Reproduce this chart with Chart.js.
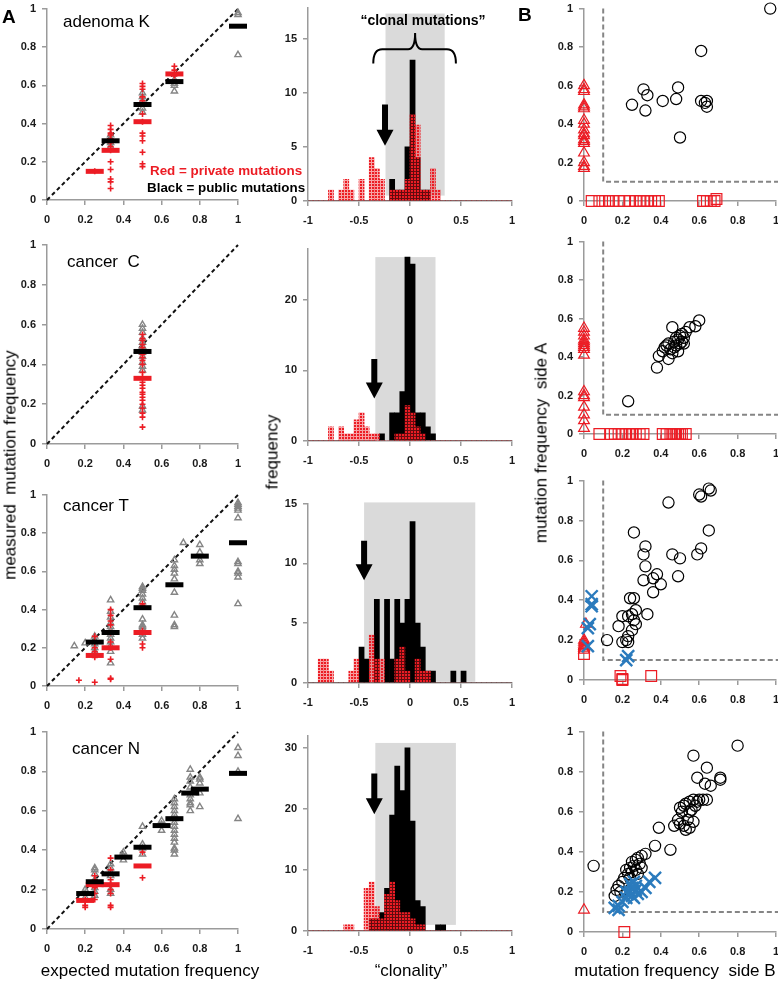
<!DOCTYPE html>
<html><head><meta charset="utf-8"><title>clonality figure</title>
<script src="https://cdn.jsdelivr.net/npm/chart.js@4.4.1/dist/chart.umd.min.js"></script>
<style>
html,body{margin:0;padding:0;background:#fff}
body{position:relative;width:778px;height:982px;overflow:hidden;font-family:"Liberation Sans",Arial,Helvetica,sans-serif}
canvas{position:absolute}
.t{position:absolute;white-space:nowrap;line-height:1;color:#000;z-index:5}
.rot{transform:translate(-50%,-50%) rotate(-90deg)}
.ctr{transform:translate(-50%,-50%)}
</style></head><body>
<div class="t" style="left:2px;top:7px;font-size:19px;font-weight:bold">A</div>
<div class="t" style="left:518px;top:5px;font-size:19px;font-weight:bold">B</div>
<div class="t" style="left:63px;top:13px;font-size:17px">adenoma K</div>
<div class="t" style="left:67px;top:253px;font-size:17px">cancer&nbsp; C</div>
<div class="t" style="left:63px;top:497px;font-size:17px">cancer T</div>
<div class="t" style="left:72px;top:740px;font-size:17px">cancer N</div>
<div class="t rot" style="left:10px;top:465px;font-size:17px">measured&nbsp; mutation frequency</div>
<div class="t rot" style="left:272px;top:452px;font-size:17px">frequency</div>
<div class="t rot" style="left:541px;top:443px;font-size:17px">mutation frequency&nbsp; side A</div>
<div class="t ctr" style="left:150px;top:970px;font-size:17px">expected mutation frequency</div>
<div class="t ctr" style="left:411px;top:970px;font-size:17px">“clonality”</div>
<div class="t ctr" style="left:675px;top:970px;font-size:17px">mutation frequency&nbsp; side B</div>
<div class="t ctr" style="left:423px;top:20px;font-size:14px;font-weight:bold">“clonal mutations”</div>
<div class="t" style="left:150px;top:164px;font-size:13.4px;font-weight:bold;color:#ec1c24">Red = private mutations</div>
<div class="t" style="left:147px;top:181px;font-size:13.4px;font-weight:bold">Black = public mutations</div>
<script>
// ================= DATA =================
// ---- Column A: measured vs expected mutation frequency ----
const A_ticks = [0, 0.2, 0.4, 0.6, 0.8, 1];
const diagonal = [[0, 0], [1, 1]];

const K_gray = [[1,0.98],[1,0.97],[1,0.76],[0.667,0.63],[0.667,0.61],[0.667,0.60],[0.667,0.57],[0.5,0.56],[0.5,0.54],[0.5,0.52],[0.5,0.50],[0.5,0.48],[0.5,0.46],[0.333,0.34],[0.333,0.32],[0.333,0.30],[0.333,0.28]];
const K_plus = [[0.25,0.15],[0.333,0.39],[0.333,0.37],[0.333,0.35],[0.333,0.34],[0.333,0.32],[0.333,0.30],[0.333,0.28],[0.333,0.26],[0.333,0.20],[0.333,0.16],[0.333,0.11],[0.333,0.095],[0.333,0.06],[0.5,0.61],[0.5,0.595],[0.5,0.58],[0.5,0.54],[0.5,0.52],[0.5,0.45],[0.5,0.41],[0.5,0.35],[0.5,0.335],[0.5,0.31],[0.5,0.25],[0.5,0.19],[0.5,0.175],[0.667,0.70],[0.667,0.68],[0.667,0.65]];
const K_blackMean = [[0.333,0.31],[0.5,0.50],[0.667,0.62],[1,0.91]];
const K_redMean = [[0.25,0.15],[0.333,0.26],[0.5,0.41],[0.667,0.66]];

const C_gray = [[0.5,0.60],[0.5,0.58],[0.5,0.56],[0.5,0.53],[0.5,0.51],[0.5,0.49],[0.5,0.46],[0.5,0.44],[0.5,0.41],[0.5,0.39],[0.5,0.37],[0.5,0.19],[0.5,0.17]];
const C_plus = [[0.5,0.55],[0.5,0.53],[0.5,0.52],[0.5,0.50],[0.5,0.485],[0.5,0.47],[0.5,0.45],[0.5,0.435],[0.5,0.42],[0.5,0.40],[0.5,0.36],[0.5,0.335],[0.5,0.31],[0.5,0.295],[0.5,0.28],[0.5,0.26],[0.5,0.25],[0.5,0.235],[0.5,0.22],[0.5,0.20],[0.5,0.18],[0.5,0.155],[0.5,0.135],[0.5,0.085]];
const C_blackMean = [[0.5,0.465]];
const C_redMean = [[0.5,0.33]];

const T_gray = [[0.143,0.21],[0.2,0.225],[0.25,0.26],[0.25,0.24],[0.25,0.22],[0.25,0.20],[0.25,0.18],
 [0.333,0.45],[0.333,0.39],[0.333,0.36],[0.333,0.33],[0.333,0.31],[0.333,0.29],[0.333,0.27],[0.333,0.25],[0.333,0.23],[0.333,0.21],[0.333,0.18],[0.333,0.12],
 [0.5,0.52],[0.5,0.51],[0.5,0.50],[0.5,0.48],[0.5,0.46],[0.5,0.44],[0.5,0.35],[0.5,0.32],[0.5,0.31],[0.5,0.30],[0.5,0.27],[0.5,0.25],
 [0.667,0.66],[0.667,0.63],[0.667,0.61],[0.667,0.59],[0.667,0.56],[0.667,0.49],[0.667,0.37],[0.667,0.32],[0.667,0.31],
 [0.714,0.75],[0.8,0.74],[0.8,0.70],[0.8,0.66],[0.8,0.64],
 [1,0.96],[1,0.95],[1,0.94],[1,0.93],[1,0.92],[1,0.88],[1,0.65],[1,0.64],[1,0.60],[1,0.59],[1,0.57],[1,0.43]];
const T_plus = [[0.167,0.03],[0.25,0.26],[0.25,0.23],[0.25,0.20],[0.25,0.18],[0.25,0.17],[0.25,0.15],[0.25,0.02],[0.333,0.40],[0.333,0.37],[0.333,0.34],[0.333,0.32],[0.333,0.28],[0.333,0.23],[0.333,0.20],[0.333,0.14],[0.333,0.04],[0.333,0.035],[0.5,0.43],[0.5,0.42],[0.5,0.29],[0.5,0.28],[0.5,0.22],[0.5,0.20]];
const T_blackMean = [[0.25,0.23],[0.333,0.28],[0.5,0.41],[0.667,0.53],[0.8,0.68],[1,0.75]];
const T_redMean = [[0.25,0.16],[0.333,0.20],[0.5,0.28]];

const N_gray = [[0.2,0.20],[0.2,0.18],[0.2,0.16],[0.25,0.31],[0.25,0.30],[0.25,0.28],[0.25,0.25],[0.25,0.21],[0.25,0.19],[0.25,0.17],
 [0.333,0.33],[0.333,0.31],[0.333,0.29],[0.333,0.27],[0.333,0.20],[0.333,0.18],[0.4,0.39],[0.4,0.37],[0.4,0.35],
 [0.5,0.52],[0.5,0.43],[0.5,0.41],[0.5,0.38],[0.6,0.55],[0.6,0.53],[0.6,0.50],
 [0.667,0.66],[0.667,0.64],[0.667,0.62],[0.667,0.60],[0.667,0.58],[0.667,0.56],[0.667,0.54],[0.667,0.52],[0.667,0.50],[0.667,0.48],[0.667,0.46],[0.667,0.44],[0.667,0.41],[0.667,0.40],[0.667,0.38],
 [0.75,0.81],[0.75,0.77],[0.75,0.75],[0.75,0.72],[0.75,0.68],[0.75,0.66],[0.75,0.64],[0.75,0.63],[0.75,0.60],
 [0.8,0.77],[0.8,0.76],[0.8,0.74],[0.8,0.69],[0.8,0.62],[1,0.92],[1,0.88],[1,0.80],[1,0.56]];
const N_plus = [[0.2,0.15],[0.2,0.14],[0.2,0.12],[0.2,0.11],[0.25,0.27],[0.25,0.25],[0.25,0.23],[0.25,0.22],[0.25,0.21],[0.25,0.18],[0.25,0.15],[0.333,0.36],[0.333,0.30],[0.333,0.25],[0.333,0.23],[0.333,0.22],[0.333,0.20],[0.333,0.18],[0.333,0.12],[0.333,0.11],[0.5,0.39],[0.5,0.26]];
const N_blackMean = [[0.2,0.18],[0.25,0.24],[0.333,0.28],[0.4,0.365],[0.5,0.415],[0.6,0.525],[0.667,0.56],[0.75,0.69],[0.8,0.71],[1,0.79]];
const N_redMean = [[0.2,0.145],[0.25,0.225],[0.333,0.225],[0.5,0.32]];

// ---- Middle column: "clonality" histograms ----
const binCenters = [-0.975,-0.925,-0.875,-0.825,-0.775,-0.725,-0.675,-0.625,-0.575,-0.525,-0.475,-0.425,-0.375,-0.325,-0.275,-0.225,-0.175,-0.125,-0.075,-0.025,0.025,0.075,0.125,0.175,0.225,0.275,0.325,0.375,0.425,0.475,0.525,0.575,0.625,0.675,0.725,0.775,0.825,0.875,0.925,0.975];
const H_xTicks = [-1, -0.5, 0, 0.5, 1];

const K_histPrivate = [0,0,0,0,1,0,1,2,1,0, 2,0,4,3,2,0,1,1,1,2, 8,7,1,1,3,1,0,0,0,0, 0,0,0,0,0,0,0,0,0,0];
const K_histPublic  = [0,0,0,0,0,0,0,0,0,0, 0,0,0,0,0,0,2,1,1,5, 13,4,1,1,0,0,0,0,0,0, 0,0,0,0,0,0,0,0,0,0];
const C_histPrivate = [0,0,0,0,2,0,2,1,1,3, 4,2,1,1,0,0,0,1,1,5, 4,2,1,0,0,0,0,0,0,0, 0,0,0,0,0,0,0,0,0,0];
const C_histPublic  = [0,0,0,0,0,0,0,0,0,0, 0,0,0,0,1,0,4,4,7,26, 25,4,4,2,1,0,0,0,0,0, 0,0,0,0,0,0,0,0,0,0];
const T_histPrivate = [0,0,2,2,1,0,0,0,1,2, 0,0,4,2,2,0,0,2,3,1, 0,2,1,1,0,0,0,0,0,0, 0,0,0,0,0,0,0,0,0,0];
const T_histPublic  = [0,0,0,0,0,0,0,0,0,0, 3,2,0,7,0,7,2,7,5,7, 13.5,5,3,1,1,0,0,0,1,0, 1,0,0,0,0,0,0,0,0,0];
const N_histPrivate = [0,0,0,0,0,0,0,1,1,0, 0,7,8,4,2,6,8,5,3,3, 2,1,1,0,0,0,0,0,0,0, 0,0,0,0,0,0,0,0,0,0];
const N_histPublic  = [0,0,0,0,0,0,0,0,0,0, 0,0,2,2,3,7,19,27,23,30, 18,5,4,0,0,1,1,0,0,0, 0,0,0,0,0,0,0,0,0,0];

const K_yTicks = [0, 5, 10, 15];
const C_yTicks = [0, 10, 20];
const T_yTicks = [0, 5, 10, 15];
const N_yTicks = [0, 10, 20, 30];
// shaded "clonal" band: [xFrom, xTo, yFrom, yTo]
const K_band = [-0.24, 0.34, 0.5, 17.3];
const C_band = [-0.34, 0.25, 0, 26];
const T_band = [-0.45, 0.64, 0.1, 15.1];
const N_band = [-0.34, 0.45, 1, 30.8];
// arrow: [x, yTop, yTip]
const K_arrow = [-0.245, 8.9, 5.1];
const C_arrow = [-0.35, 11.6, 6.0];
const T_arrow = [-0.45, 11.9, 8.6];
const N_arrow = [-0.35, 25.8, 19.1];
// brace over the band in the first histogram
const K_braceX = [-0.36, 0.05, 0.45];
const K_braceY = [12.7, 14.0, 15.5];

// ---- Column B: side A vs side B ----
const B_cut = [[0.1, 1], [0.1, 0.1], [1.02, 0.1]];
const K_both = [[0.97,1.0],[0.61,0.78],[0.31,0.58],[0.33,0.55],[0.25,0.50],[0.32,0.47],[0.41,0.52],[0.48,0.53],[0.49,0.59],[0.50,0.33],[0.61,0.52],[0.63,0.51],[0.64,0.52],[0.64,0.49]];
const K_onlyA = [[0,0.60],[0,0.58],[0,0.57],[0,0.50],[0,0.49],[0,0.48],[0,0.42],[0,0.40],[0,0.37],[0,0.35],[0,0.34],[0,0.32],[0,0.31],[0,0.30],[0,0.25],[0,0.20],[0,0.18],[0,0.17]];
const K_onlyB = [[0.04,0],[0.08,0],[0.11,0],[0.13,0],[0.15,0],[0.18,0],[0.21,0],[0.24,0],[0.27,0],[0.29,0],[0.31,0],[0.33,0],[0.35,0],[0.37,0],[0.39,0],[0.62,0],[0.64,0],[0.66,0],[0.68,0],[0.69,0.01]];
const K_cross = [];

const C_both = [[0.23,0.17],[0.38,0.345],[0.39,0.405],[0.41,0.43],[0.42,0.45],[0.43,0.46],[0.44,0.39],[0.44,0.47],[0.45,0.44],[0.46,0.42],[0.46,0.555],[0.47,0.48],[0.47,0.45],[0.48,0.50],[0.48,0.46],[0.49,0.43],[0.49,0.49],[0.50,0.51],[0.50,0.47],[0.51,0.48],[0.51,0.52],[0.52,0.50],[0.52,0.47],[0.53,0.53],[0.55,0.555],[0.58,0.56],[0.60,0.59]];
const C_onlyA = [[0,0.55],[0,0.53],[0,0.51],[0,0.49],[0,0.48],[0,0.47],[0,0.46],[0,0.45],[0,0.44],[0,0.41],[0,0.22],[0,0.20],[0,0.19],[0,0.14],[0,0.10],[0,0.07],[0,0.03]];
const C_onlyB = [[0.08,0],[0.14,0],[0.16,0],[0.18,0],[0.20,0],[0.22,0],[0.24,0],[0.25,0],[0.27,0],[0.29,0],[0.31,0],[0.41,0],[0.43,0],[0.45,0],[0.46,0],[0.47,0],[0.48,0],[0.49,0],[0.50,0],[0.51,0],[0.53,0]];
const C_cross = [];

const T_both = [[0.65,0.96],[0.66,0.95],[0.60,0.93],[0.61,0.92],[0.44,0.89],[0.65,0.75],[0.26,0.74],[0.32,0.67],[0.31,0.63],[0.46,0.63],[0.50,0.61],[0.59,0.63],[0.61,0.66],[0.32,0.57],[0.31,0.50],[0.36,0.51],[0.38,0.53],[0.40,0.48],[0.36,0.44],[0.49,0.52],[0.24,0.41],[0.26,0.41],[0.27,0.35],[0.33,0.33],[0.20,0.32],[0.23,0.32],[0.25,0.33],[0.26,0.30],[0.27,0.28],[0.18,0.27],[0.25,0.25],[0.23,0.22],[0.22,0.20],[0.20,0.19],[0.23,0.19],[0.12,0.20]];
const T_onlyA = [[0.01,0.28],[0,0.20],[0,0.19],[0,0.18],[0,0.17],[0,0.16],[0,0.15]];
const T_onlyB = [[0,0.13],[0.19,0.02],[0.20,0.005],[0.20,0],[0.35,0.02]];
const T_cross = [[0.04,0.42],[0.04,0.38],[0.04,0.37],[0.03,0.28],[0.02,0.26],[0.02,0.17],[0.23,0.12],[0.22,0.10]];

const N_both = [[0.80,0.93],[0.57,0.88],[0.64,0.82],[0.59,0.77],[0.63,0.74],[0.66,0.73],[0.71,0.77],[0.71,0.76],
 [0.50,0.62],[0.52,0.63],[0.53,0.64],[0.55,0.65],[0.57,0.66],[0.59,0.65],[0.60,0.66],[0.62,0.66],[0.64,0.66],[0.55,0.60],[0.56,0.61],[0.58,0.63],[0.51,0.60],
 [0.49,0.56],[0.50,0.54],[0.52,0.53],[0.53,0.51],[0.55,0.52],[0.57,0.55],[0.54,0.56],[0.47,0.53],[0.39,0.52],[0.37,0.43],[0.45,0.41],[0.05,0.33],
 [0.32,0.39],[0.30,0.38],[0.28,0.37],[0.27,0.36],[0.25,0.35],[0.29,0.34],[0.26,0.33],[0.24,0.32],[0.22,0.31],[0.27,0.31],[0.30,0.32],[0.25,0.30],[0.23,0.29],[0.28,0.29],[0.21,0.27],[0.24,0.27],[0.20,0.25],[0.18,0.23],[0.17,0.21],[0.16,0.18],[0.19,0.20]];
const N_onlyA = [[0,0.11]];
const N_onlyB = [[0.21,0]];
const N_cross = [[0.37,0.27],[0.34,0.25],[0.32,0.22],[0.30,0.20],[0.27,0.21],[0.25,0.22],[0.24,0.20],[0.23,0.19],[0.25,0.18],[0.26,0.17],[0.28,0.19],[0.27,0.23],[0.26,0.25],[0.22,0.17],[0.20,0.15],[0.18,0.13],[0.16,0.12],[0.18,0.11],[0.22,0.20],[0.24,0.24]];

// ================= RENDERING =================
const FONT = '"Liberation Sans", Arial, Helvetica, sans-serif';
const RED = '#ec1c24';
const BLUE = '#2b7bbd';
const GRAY = '#858585';
const AXC = '#9b9b9b';
const CLEAR = 'rgba(0,0,0,0)';
const PAD = {l: 44, t: 12, r: 12, b: 34};

function pts(a) { return a.map(p => ({x: p[0], y: p[1]})); }

function mk(box) {
  const c = document.createElement('canvas');
  const w = box.R - box.L + PAD.l + PAD.r, h = box.B - box.T + PAD.t + PAD.b;
  c.width = w; c.height = h;
  c.style.width = w + 'px'; c.style.height = h + 'px';
  c.style.left = (box.L - PAD.l) + 'px'; c.style.top = (box.T - PAD.t) + 'px';
  document.body.appendChild(c);
  return c;
}

function axis(min, max, ticks, isX) {
  return {
    type: 'linear', min, max, offset: false,
    afterFit(s) { if (isX) s.height = PAD.b; else s.width = PAD.l; },
    afterBuildTicks(s) { s.ticks = ticks.map(v => ({value: v})); },
    grid: {drawOnChartArea: false, drawTicks: true, tickLength: 5, color: AXC, lineWidth: 1.5, offset: false},
    border: {display: true, color: AXC, width: 1.5},
    ticks: {color: '#1a1a1a', font: {family: FONT, size: 11, weight: 'bold'}, padding: isX ? 8 : 6,
            maxRotation: 0, autoSkip: false, callback: v => String(v)}
  };
}

function baseOpts(x, y) {
  return {
    responsive: false, animation: false, devicePixelRatio: 1, events: [],
    layout: {padding: {left: 0, top: PAD.t, right: PAD.r, bottom: 0}},
    plugins: {legend: {display: false}, tooltip: {enabled: false}},
    scales: {x, y}
  };
}

function ptSet(data, style, r, color, bw, order) {
  return {data: pts(data), pointStyle: style, pointRadius: r, pointBorderColor: color, borderColor: color,
          pointBackgroundColor: CLEAR, backgroundColor: CLEAR, pointBorderWidth: bw, order, clip: false, showLine: false};
}

function panelA(box, gray, plus, blackMean, redMean) {
  const c = mk(box);
  new Chart(c, {
    type: 'scatter',
    data: {datasets: [
      {data: pts(diagonal), showLine: true, borderColor: '#111', borderWidth: 2, borderDash: [4, 3], pointRadius: 0, order: 4, clip: false},
      ptSet(gray, 'triangle', 3.6, GRAY, 1.4, 3),
      ptSet(plus, 'cross', 3, RED, 1.6, 2),
      ptSet(redMean, 'line', 9, RED, 5, 1),
      ptSet(blackMean, 'line', 9, '#000', 5, 0)
    ]},
    options: baseOpts(axis(0, 1, A_ticks, true), axis(0, 1, A_ticks, false))
  });
}

function makePattern(ctx) {
  const p = document.createElement('canvas'); p.width = 3; p.height = 3;
  const g = p.getContext('2d');
  g.fillStyle = 'rgba(236,28,36,0.4)'; g.fillRect(0, 0, 3, 3);
  g.clearRect(0, 0, 2, 2);
  g.fillStyle = 'rgb(236,28,36)'; g.fillRect(0, 0, 2, 2);
  return ctx.createPattern(p, 'repeat');
}

function panelH(box, ymax, yTicks, pub, priv, band, arrow, braceX, braceY) {
  const c = mk(box);
  const pat = makePattern(c.getContext('2d'));
  const deco = {
    id: 'deco',
    beforeDatasetsDraw(chart) {
      const {ctx, scales: {x, y}} = chart;
      const x0 = x.getPixelForValue(band[0]), x1 = x.getPixelForValue(band[1]);
      const y0 = y.getPixelForValue(band[2]), y1 = y.getPixelForValue(band[3]);
      ctx.save(); ctx.fillStyle = '#dadada'; ctx.fillRect(x0, y1, x1 - x0, y0 - y1); ctx.restore();
    },
    afterDatasetsDraw(chart) {
      const {ctx, scales: {x, y}} = chart;
      const ax = x.getPixelForValue(arrow[0]), yt = y.getPixelForValue(arrow[1]), yp = y.getPixelForValue(arrow[2]);
      const hh = 16, hw = 8.5, sw = 3;
      ctx.save(); ctx.fillStyle = '#000'; ctx.beginPath();
      ctx.moveTo(ax - sw, yt); ctx.lineTo(ax + sw, yt); ctx.lineTo(ax + sw, yp - hh);
      ctx.lineTo(ax + hw, yp - hh); ctx.lineTo(ax, yp); ctx.lineTo(ax - hw, yp - hh);
      ctx.lineTo(ax - sw, yp - hh); ctx.closePath(); ctx.fill(); ctx.restore();
      if (braceX) {
        const xl = x.getPixelForValue(braceX[0]), xc = x.getPixelForValue(braceX[1]), xr = x.getPixelForValue(braceX[2]);
        const ye = y.getPixelForValue(braceY[0]), ym = y.getPixelForValue(braceY[1]), ytp = y.getPixelForValue(braceY[2]);
        ctx.save(); ctx.strokeStyle = '#000'; ctx.lineWidth = 2; ctx.beginPath();
        ctx.moveTo(xl, ye); ctx.quadraticCurveTo(xl, ym, xl + 9, ym);
        ctx.lineTo(xc - 7, ym); ctx.quadraticCurveTo(xc, ym, xc, ytp);
        ctx.quadraticCurveTo(xc, ym, xc + 7, ym); ctx.lineTo(xr - 9, ym);
        ctx.quadraticCurveTo(xr, ym, xr, ye); ctx.stroke(); ctx.restore();
      }
    }
  };
  const opts = baseOpts(axis(-1, 1, H_xTicks, true), axis(0, ymax, yTicks, false));
  opts.datasets = {bar: {grouped: false, barPercentage: 1, categoryPercentage: 1, borderWidth: 0}};
  new Chart(c, {
    type: 'bar',
    data: {datasets: [
      {data: binCenters.map((b, i) => ({x: b, y: priv[i]})), backgroundColor: pat, order: 0},
      {data: binCenters.map((b, i) => ({x: b, y: pub[i]})), backgroundColor: '#000', order: 1}
    ]},
    options: opts,
    plugins: [deco]
  });
}

function panelB(box, both, onlyA, onlyB, cross) {
  const c = mk(box);
  new Chart(c, {
    type: 'scatter',
    data: {datasets: [
      {data: pts(B_cut), showLine: true, borderColor: GRAY, borderWidth: 2, borderDash: [5, 3], pointRadius: 0, order: 5, clip: false},
      ptSet(both, 'circle', 5.6, '#000', 1.2, 2),
      ptSet(onlyA, 'triangle', 6.2, RED, 1.2, 3),
      ptSet(onlyB, 'rect', 7.6, RED, 1.2, 3),
      ptSet(cross, 'crossRot', 8.5, BLUE, 2.4, 0)
    ]},
    options: baseOpts(axis(0, 1, A_ticks, true), axis(0, 1, A_ticks, false))
  });
}

// Column A
panelA({L: 47, R: 240, T: 7, B: 200}, K_gray, K_plus, K_blackMean, K_redMean);
panelA({L: 47, R: 240, T: 243, B: 444}, C_gray, C_plus, C_blackMean, C_redMean);
panelA({L: 47, R: 240, T: 493, B: 686}, T_gray, T_plus, T_blackMean, T_redMean);
panelA({L: 47, R: 240, T: 730, B: 929}, N_gray, N_plus, N_blackMean, N_redMean);
// Middle column
panelH({L: 308, R: 512, T: 7, B: 201}, 17.85, K_yTicks, K_histPublic, K_histPrivate, K_band, K_arrow, K_braceX, K_braceY);
panelH({L: 308, R: 512, T: 248, B: 441}, 27.2, C_yTicks, C_histPublic, C_histPrivate, C_band, C_arrow);
panelH({L: 308, R: 512, T: 503, B: 683}, 15, T_yTicks, T_histPublic, T_histPrivate, T_band, T_arrow);
panelH({L: 308, R: 512, T: 735, B: 931}, 32, N_yTicks, N_histPublic, N_histPrivate, N_band, N_arrow);
// Column B
panelB({L: 584, R: 776, T: 8, B: 201}, K_both, K_onlyA, K_onlyB, K_cross);
panelB({L: 584, R: 776, T: 241, B: 434}, C_both, C_onlyA, C_onlyB, C_cross);
panelB({L: 584, R: 776, T: 480, B: 680}, T_both, T_onlyA, T_onlyB, T_cross);
panelB({L: 584, R: 776, T: 731, B: 932}, N_both, N_onlyA, N_onlyB, N_cross);
</script>
</body></html>
